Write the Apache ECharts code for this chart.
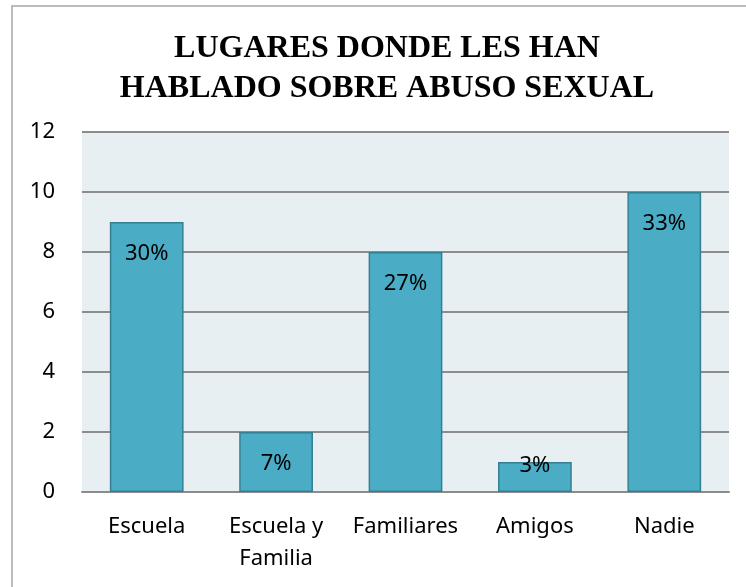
<!DOCTYPE html>
<html>
<head>
<meta charset="utf-8">
<script src="https://cdn.jsdelivr.net/npm/echarts@6/dist/echarts.min.js"></script>
<style>
html,body{margin:0;padding:0;background:#fff;}
#chart{width:746px;height:587px;}
</style>
</head>
<body>
<div id="chart"></div>
<script>
// datos del gráfico
var categorias = ['Escuela', 'Escuela y\nFamilia', 'Familiares', 'Amigos', 'Nadie'];
var valores = [9, 2, 8, 1, 10];
var porcentajes = ['30%', '7%', '27%', '3%', '33%'];
var ticksY = [0, 2, 4, 6, 8, 10, 12];

var myChart = echarts.init(document.getElementById('chart'));

//datos de barras con etiqueta
var barData = [];
for (var i = 0; i < valores.length; i++) {
    var item = { value: valores[i] };
    if (valores[i] < 2) {
        // etiqueta pequeña se sube sobre el borde
        item.label = { offset: [0, -28] };
    }
    barData.push(item);
}

var option = {
    animation: false,
    backgroundColor: '#fff',
    title: {
        text: 'LUGARES DONDE LES HAN\nHABLADO SOBRE ABUSO SEXUAL',
        left: 382,
        top: 24,
        textAlign: 'center',
        textStyle: {
            fontFamily: '"Liberation Serif", "Times New Roman", serif',
            fontWeight: 'bold',
            fontSize: 32,
            lineHeight: 40,
            color: '#000'
        }
    },
    graphic: [{
        type: 'rect',
        shape: { x: 12, y: 6, width: 760, height: 600 },
        style: { fill: 'none', stroke: '#a6a6a6', lineWidth: 1.5 },
        z: -1
    }],
    grid: {
        left: 82,
        right: 17,
        top: 132,
        bottom: 95,
        show: true,
        backgroundColor: '#e8eff3',
        borderWidth: 0
    },
    xAxis: {
        type: 'category',
        data: categorias,
        axisLine: { show: true, lineStyle: { color: '#8c8c8c', width: 2 } },
        axisTick: { show: false },
        axisLabel: {
            fontFamily: '"Noto Sans", "Open Sans", sans-serif',
            fontSize: 22,
            color: '#000',
            margin: 19,
            lineHeight: 32,
            interval: 0
        }
    },
    yAxis: {
        type: 'value',
        min: ticksY[0],
        max: ticksY[ticksY.length - 1],
        interval: 2,
        axisLine: { show: false },
        axisTick: { show: false },
        splitLine: { lineStyle: { color: '#8c8c8c', width: 2 } },
        axisLabel: {
            fontFamily: '"Noto Sans", "Open Sans", sans-serif',
            fontSize: 22,
            color: '#000',
            margin: 27
        }
    },
    series: [{
        type: 'bar',
        data: barData,
        barWidth: '57%',
        itemStyle: {
            color: '#4bacc6',
            borderColor: '#357f93',
            borderWidth: 1.5
        },
        label: {
            show: true,
            position: 'insideTop',
            distance: 21,
            fontFamily: '"Noto Sans", "Open Sans", sans-serif',
            fontSize: 22,
            color: '#000',
            formatter: function (p) {
                return porcentajes[p.dataIndex];
            }
        }
    }]
};

myChart.setOption(option);
</script>
</body>
</html>
